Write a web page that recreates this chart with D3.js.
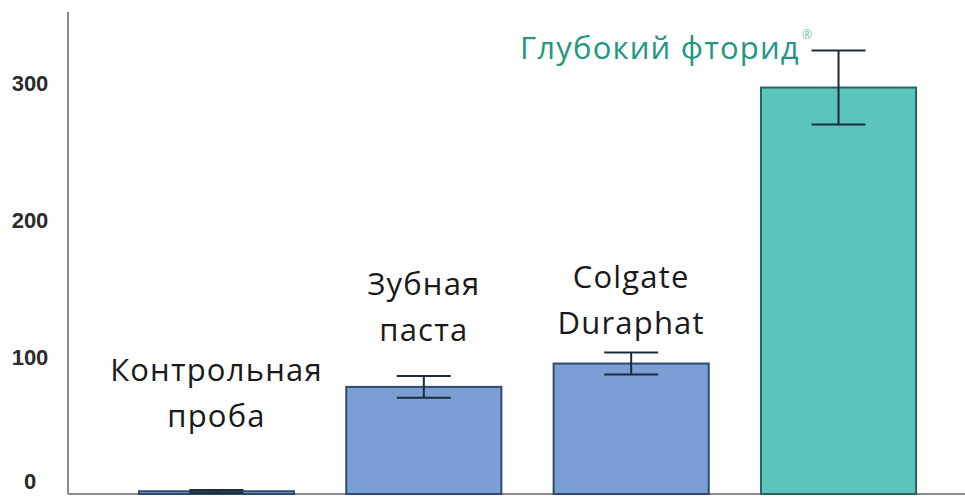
<!DOCTYPE html>
<html>
<head>
<meta charset="utf-8">
<script src="https://cdn.jsdelivr.net/npm/d3@7"></script>
<style>
  body { margin: 0; background: #fff; }
  svg { display: block; }
</style>
</head>
<body>
<svg id="chart" width="965" height="497"></svg>
<script>
// data
var categories = ["Контрольная проба", "Зубная паста", "Colgate Duraphat", "Глубокий фторид"];
var labelLines = [["Контрольная", "проба"], ["Зубная", "паста"], ["Colgate", "Duraphat"], ["Глубокий фторид"]];
var values = [2, 78, 95, 296];
var errors = [1, 8, 8, 27];
var yTicks = [0, 100, 200, 300];

// layout
var colorBar = "#7b9fd4", colorBarStroke = "#2f4a6f";
var colorAccent = "#5bc4bd", colorAccentStroke = "#2d625c";
var colorText = "#1a1a1a", colorAccentText = "#23977f";
var labelY = [381, 295, 288, 59]; // baseline of first line
var lineGap = 46;

var svg = d3.select("#chart");

var x = d3.scaleBand()
    .domain(categories)
    .range([68, 987])
    .paddingInner(0.252)
    .paddingOuter(0.342);

var y = d3.scaleLinear()
    .domain([0, 351])
    .range([494, 12]);

// axis lines
svg.append("line")
    .attr("x1", 68).attr("x2", 68)
    .attr("y1", y(351)).attr("y2", y(0))
    .attr("stroke", "#8c8c8c").attr("stroke-width", 2);

svg.append("line")
    .attr("x1", 68).attr("x2", 965)
    .attr("y1", y(0)).attr("y2", y(0))
    .attr("stroke", "#8c8c8c").attr("stroke-width", 2);

svg.selectAll(".ytick")
    .data(yTicks)
    .enter().append("text")
    .attr("class", "ytick")
    .attr("x", 30)
    .attr("y", d => Math.min(y(d) + 1, 481))
    .attr("dy", "0.35em")
    .attr("text-anchor", "middle")
    .style("font-family", "Arial, 'Liberation Sans', sans-serif")
    .style("font-weight", "bold")
    .style("font-size", "22px")
    .style("fill", "#2b2b2b")
    .text(d => d);

// bars
svg.selectAll(".bar")
    .data(values)
    .enter().append("rect")
    .attr("class", "bar")
    .attr("x", (d, i) => x(categories[i]))
    .attr("width", x.bandwidth())
    .attr("y", d => y(d))
    .attr("height", d => y(0) - y(d))
    .attr("fill", (d, i) => i === 3 ? colorAccent : colorBar)
    .attr("stroke", (d, i) => i === 3 ? colorAccentStroke : colorBarStroke)
    .attr("stroke-width", 2);

// error bars
var capW = 54;
var eb = svg.selectAll(".err")
    .data(values)
    .enter().append("g")
    .attr("class", "err")
    .attr("transform", (d, i) => "translate(" + (x(categories[i]) + x.bandwidth() / 2) + ",0)")
    .attr("stroke", "#1d2a3a")
    .attr("stroke-width", 2);

eb.append("line")
    .attr("y1", (d, i) => y(d + errors[i]))
    .attr("y2", (d, i) => y(d - errors[i]));
eb.append("line")
    .attr("x1", -capW / 2).attr("x2", capW / 2)
    .attr("y1", (d, i) => y(d + errors[i]))
    .attr("y2", (d, i) => y(d + errors[i]));
eb.append("line")
    .attr("x1", -capW / 2).attr("x2", capW / 2)
    .attr("y1", (d, i) => y(d - errors[i]))
    .attr("y2", (d, i) => y(d - errors[i]));

// category labels
labelLines.forEach((lines, i) => {
    var cx = x(categories[i]) + x.bandwidth() / 2;
    var t = svg.append("text")
        .style("font-family", "'Open Sans', sans-serif")
        .style("font-size", "31px")
        .style("letter-spacing", "1.2px")
        .style("fill", i === 3 ? colorAccentText : colorText);
    if (i === 3) {
        t.attr("x", 520).attr("y", labelY[i]).text(lines[0]);
        t.append("tspan")
            .attr("dx", 2).attr("dy", -20)
            .style("font-size", "12px")
            .style("letter-spacing", "0px")
            .style("fill", "#6cbfa8")
            .text("®");
    } else {
        t.attr("text-anchor", "middle");
        lines.forEach((l, j) => {
            t.append("tspan")
                .attr("x", cx)
                .attr("y", labelY[i] + j * lineGap)
                .text(l);
        });
    }
});
</script>
</body>
</html>
